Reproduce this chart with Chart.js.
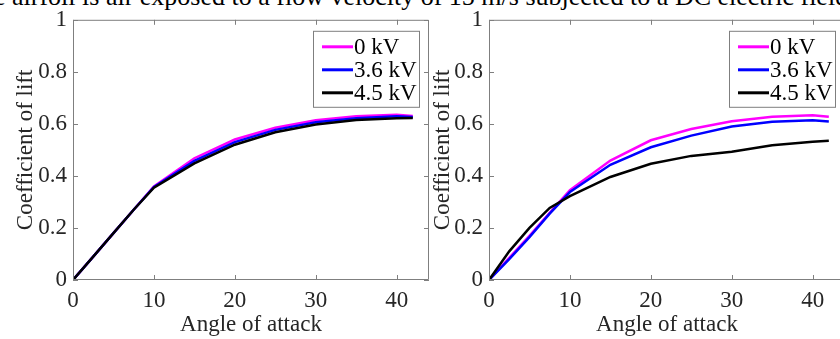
<!DOCTYPE html>
<html lang="en">
<head>
<meta charset="UTF-8">
<title>Coefficient of lift vs angle of attack</title>
<script src="https://cdn.jsdelivr.net/npm/chart.js"></script>
<style>
  body {
    margin: 0;
    width: 840px;
    height: 339px;
    overflow: hidden;
    background: #fff;
    position: relative;
    font-family: 'Liberation Serif', serif;
  }
  .caption {
    position: absolute;
    left: -6px;
    top: -16px;
    font-size: 26px;
    line-height: 26px;
    white-space: nowrap;
    color: #000;
  }
  .panel { position: absolute; top: 0; width: 440px; height: 339px; }
  #leftPanel { left: 0; }
  #rightPanel { left: 420px; }
</style>
</head>
<body>
<div class="caption">e airfoil is air exposed to a flow velocity of 15 m/s subjected to a DC electric field</div>
<div class="panel" id="leftPanel"><canvas id="leftChart" width="440" height="339"></canvas></div>
<div class="panel" id="rightPanel"><canvas id="rightChart" width="440" height="339"></canvas></div>

<script>
// angle of attack (deg) where values were sampled
const angles = [0, 2.5, 5, 7.5, 10, 15, 20, 25, 30, 35, 40, 42];
const seriesNames = ["0 kV", "3.6 kV", "4.5 kV"];
const seriesColors = ["#ff00ff", "#0000ff", "#000000"];

// left panel
const leftKv0  = [0, 0.09, 0.18, 0.27, 0.36, 0.468, 0.54, 0.585, 0.614, 0.629, 0.635, 0.63];
const leftKv36 = [0, 0.09, 0.18, 0.27, 0.358, 0.458, 0.53, 0.577, 0.606, 0.622, 0.629, 0.626];
const leftKv45 = [0, 0.09, 0.18, 0.27, 0.355, 0.448, 0.52, 0.568, 0.598, 0.615, 0.622, 0.623];

// right panel
const rightKv0  = [0, 0.085, 0.17, 0.258, 0.345, 0.459, 0.537, 0.58, 0.61, 0.627, 0.633, 0.627];
const rightKv36 = [0, 0.08, 0.165, 0.255, 0.338, 0.443, 0.51, 0.555, 0.59, 0.608, 0.614, 0.609];
const rightKv45 = [0, 0.11, 0.2, 0.277, 0.322, 0.396, 0.447, 0.477, 0.493, 0.518, 0.531, 0.535];

const xTicks = [0, 10, 20, 30, 40];
const yTicks = [0, 0.2, 0.4, 0.6, 0.8, 1];

const axisGray = "#7f7f7f";
const textColor = "#262626";
const fontFamily = "'Liberation Serif', serif";

// MATLAB-style box with inward ticks, plus the boxed legend in the top right
const boxPlugin = {
  id: "matlabBox",
  afterDatasetsDraw(chart) {
    const { ctx, chartArea: a, scales } = chart;
    const len = 5;
    ctx.save();
    ctx.strokeStyle = axisGray;
    ctx.lineWidth = 1;
    ctx.beginPath();
    ctx.rect(a.left + 0.5, a.top + 0.5, a.right - a.left - 1, a.bottom - a.top - 1);
    xTicks.forEach(v => {
      const px = Math.round(scales.x.getPixelForValue(v)) + 0.5;
      ctx.moveTo(px, a.bottom); ctx.lineTo(px, a.bottom - len);
      ctx.moveTo(px, a.top); ctx.lineTo(px, a.top + len);
    });
    yTicks.forEach(v => {
      const py = Math.round(scales.y.getPixelForValue(v)) + 0.5;
      ctx.moveTo(a.left, py); ctx.lineTo(a.left + len, py);
      ctx.moveTo(a.right, py); ctx.lineTo(a.right - len, py);
    });
    ctx.stroke();

    // legend
    const w = 106, h = 76;
    const bx = a.right - 10 - w, by = a.top + 11;
    ctx.fillStyle = "#fff";
    ctx.fillRect(bx, by, w, h);
    ctx.strokeRect(bx + 0.5, by + 0.5, w, h);
    ctx.font = "23px " + fontFamily;
    ctx.textBaseline = "middle";
    ctx.textAlign = "left";
    chart.data.datasets.forEach((ds, i) => {
      const ry = by + 16 + i * 23;
      ctx.strokeStyle = ds.borderColor;
      ctx.lineWidth = 3;
      ctx.beginPath();
      ctx.moveTo(bx + 9, ry);
      ctx.lineTo(bx + 40, ry);
      ctx.stroke();
      ctx.fillStyle = "#000";
      ctx.fillText(ds.label, bx + 41, ry + 1);
    });
    ctx.restore();
  }
};

function makeChart(id, values, opts) {
  const datasets = values.map((vals, i) => ({
    label: seriesNames[i],
    data: angles.map((a, j) => ({ x: a, y: vals[j] })),
    borderColor: seriesColors[i],
    borderWidth: 2.5,
    pointRadius: 0,
    tension: 0,
    fill: false,
    order: values.length - 1 - i // later series drawn on top, as in the plot
  }));

  const font = { family: fontFamily, size: 23 };

  return new Chart(document.getElementById(id), {
    type: "line",
    data: { datasets },
    options: {
      responsive: false,
      animation: false,
      events: [],
      layout: { padding: { top: opts.top, right: opts.right, left: 0, bottom: 0 } },
      plugins: { legend: { display: false }, tooltip: { enabled: false } },
      scales: {
        x: {
          type: "linear",
          min: 0,
          max: 44,
          afterBuildTicks: s => { s.ticks = xTicks.map(v => ({ value: v })); },
          afterFit: s => { s.height = 59; },
          grid: { drawOnChartArea: false, drawTicks: false },
          border: { display: false },
          ticks: { color: textColor, font, padding: 7, maxRotation: 0, autoSkip: false },
          title: { display: true, text: "Angle of attack", color: textColor, font, padding: { top: 0, bottom: 0 } }
        },
        y: {
          min: 0,
          max: 1,
          afterBuildTicks: s => { s.ticks = yTicks.map(v => ({ value: v })); },
          afterFit: s => { s.width = opts.yWidth; },
          grid: { drawOnChartArea: false, drawTicks: false },
          border: { display: false },
          ticks: {
            color: textColor, font, padding: 6, autoSkip: false,
            callback: v => (v === 0 || v === 1) ? String(v) : v.toFixed(1)
          },
          title: { display: true, text: "Coefficient of lift", color: textColor, font, padding: { top: opts.titlePad, bottom: 0 } }
        }
      }
    },
    plugins: [boxPlugin]
  });
}

const leftChart = makeChart("leftChart", [leftKv0, leftKv36, leftKv45], { top: 15, right: 11, yWidth: 73, titlePad: 12 });
const rightChart = makeChart("rightChart", [rightKv0, rightKv36, rightKv45], { top: 17, right: 15, yWidth: 69, titlePad: 9 });
</script>
</body>
</html>
